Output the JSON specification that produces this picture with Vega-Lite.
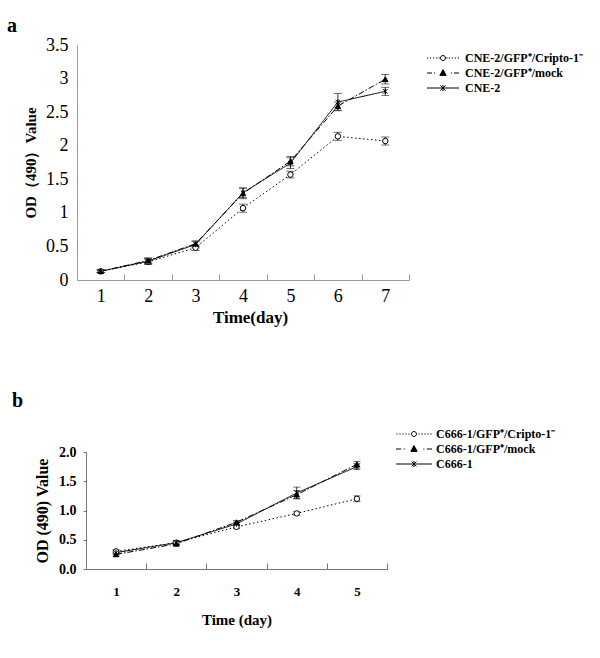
{
  "$schema": "https://vega.github.io/schema/vega-lite/v6.json",
  "padding": {"left": 7, "top": 16, "right": 2, "bottom": 5},
  "background": "white",
  "config": {"view": {"stroke": null}, "font": "Liberation Serif", "axis": {"grid": false, "labelColor": "black", "titleColor": "black", "labelFont": "Liberation Serif", "titleFont": "Liberation Serif", "labelOverlap": false}},
  "datasets": {
    "dA": [
      {"day": 1, "series": "Cripto", "mean": 0.13, "lo": 0.11, "hi": 0.15},
      {"day": 2, "series": "Cripto", "mean": 0.27, "lo": 0.23, "hi": 0.31},
      {"day": 3, "series": "Cripto", "mean": 0.48, "lo": 0.44, "hi": 0.52},
      {"day": 4, "series": "Cripto", "mean": 1.07, "lo": 1.01, "hi": 1.13},
      {"day": 5, "series": "Cripto", "mean": 1.57, "lo": 1.52, "hi": 1.62},
      {"day": 6, "series": "Cripto", "mean": 2.14, "lo": 2.08, "hi": 2.2},
      {"day": 7, "series": "Cripto", "mean": 2.07, "lo": 2.01, "hi": 2.13},
      {"day": 1, "series": "Mock", "mean": 0.13, "lo": 0.11, "hi": 0.15},
      {"day": 2, "series": "Mock", "mean": 0.29, "lo": 0.25, "hi": 0.33},
      {"day": 3, "series": "Mock", "mean": 0.54, "lo": 0.5, "hi": 0.58},
      {"day": 4, "series": "Mock", "mean": 1.29, "lo": 1.21, "hi": 1.37},
      {"day": 5, "series": "Mock", "mean": 1.77, "lo": 1.7, "hi": 1.84},
      {"day": 6, "series": "Mock", "mean": 2.59, "lo": 2.53, "hi": 2.65},
      {"day": 7, "series": "Mock", "mean": 2.99, "lo": 2.92, "hi": 3.06},
      {"day": 1, "series": "Parent", "mean": 0.13, "lo": 0.11, "hi": 0.15},
      {"day": 2, "series": "Parent", "mean": 0.28, "lo": 0.24, "hi": 0.32},
      {"day": 3, "series": "Parent", "mean": 0.53, "lo": 0.48, "hi": 0.58},
      {"day": 4, "series": "Parent", "mean": 1.3, "lo": 1.23, "hi": 1.37},
      {"day": 5, "series": "Parent", "mean": 1.74, "lo": 1.66, "hi": 1.82},
      {"day": 6, "series": "Parent", "mean": 2.65, "lo": 2.52, "hi": 2.78},
      {"day": 7, "series": "Parent", "mean": 2.81, "lo": 2.75, "hi": 2.87}
    ],
    "dB": [
      {"day": 1, "series": "Cripto", "mean": 0.3, "lo": 0.27, "hi": 0.33},
      {"day": 2, "series": "Cripto", "mean": 0.45, "lo": 0.42, "hi": 0.48},
      {"day": 3, "series": "Cripto", "mean": 0.72, "lo": 0.69, "hi": 0.75},
      {"day": 4, "series": "Cripto", "mean": 0.95, "lo": 0.92, "hi": 0.98},
      {"day": 5, "series": "Cripto", "mean": 1.2, "lo": 1.15, "hi": 1.25},
      {"day": 1, "series": "Mock", "mean": 0.25, "lo": 0.22, "hi": 0.28},
      {"day": 2, "series": "Mock", "mean": 0.43, "lo": 0.4, "hi": 0.46},
      {"day": 3, "series": "Mock", "mean": 0.8, "lo": 0.77, "hi": 0.83},
      {"day": 4, "series": "Mock", "mean": 1.27, "lo": 1.2, "hi": 1.34},
      {"day": 5, "series": "Mock", "mean": 1.79, "lo": 1.74, "hi": 1.84},
      {"day": 1, "series": "Parent", "mean": 0.28, "lo": 0.25, "hi": 0.31},
      {"day": 2, "series": "Parent", "mean": 0.45, "lo": 0.42, "hi": 0.48},
      {"day": 3, "series": "Parent", "mean": 0.77, "lo": 0.74, "hi": 0.8},
      {"day": 4, "series": "Parent", "mean": 1.3, "lo": 1.2, "hi": 1.4},
      {"day": 5, "series": "Parent", "mean": 1.75, "lo": 1.7, "hi": 1.8}
    ]
  },
  "columns": 1,
  "spacing": 66,
  "concat": [
    {
      "title": {"text": "a", "anchor": "start", "frame": "group", "fontSize": 20, "fontWeight": "bold", "font": "Liberation Serif", "dx": -70, "offset": 0, "color": "black"},
      "width": 332,
      "height": 235,
      "data": {"name": "dA"},
      "encoding": {
        "x": {"field": "day", "type": "ordinal", "bandPosition": 0.5,
          "scale": {"type": "band", "paddingInner": 0, "paddingOuter": 0},
          "axis": {"title": "Time(day)", "titleFontSize": 17, "titleFontWeight": "bold", "titlePadding": 4, "titleX": 173, "labelAngle": 0, "labelFontSize": 18, "labelPadding": 13, "tickBand": "extent", "tickSize": -6, "domainColor": "#999", "tickColor": "#999"}}
      },
      "layer": [
        {"mark": {"type": "line", "color": "black", "strokeWidth": 1},
         "encoding": {
           "y": {"field": "mean", "type": "quantitative", "scale": {"domain": [0, 3.5]},
             "axis": {"title": "OD（490）Value", "titleFontSize": 15, "titleFontWeight": "bold", "titlePadding": 7, "values": [0, 0.5, 1, 1.5, 2, 2.5, 3, 3.5], "tickCount": 8, "labelOverlap": false, "format": "~f", "ticks": false, "labelPadding": 9, "labelFontSize": 18, "domainColor": "#999"}},
           "strokeDash": {"field": "series", "scale": {"domain": ["Cripto", "Mock", "Parent"], "range": [[1.5, 2.5], [6, 2, 1.5, 2], [1, 0]]}, "legend": null}
         }},
        {"mark": {"type": "rule", "color": "black", "strokeWidth": 0.8},
         "encoding": {"y": {"field": "lo", "type": "quantitative",
             "axis": {"title": "OD（490）Value", "titleFontSize": 15, "titleFontWeight": "bold", "titlePadding": 7, "values": [0, 0.5, 1, 1.5, 2, 2.5, 3, 3.5], "tickCount": 8, "labelOverlap": false, "format": "~f", "ticks": false, "labelPadding": 9, "labelFontSize": 18, "domainColor": "#999"}}, "y2": {"field": "hi"}}},
        {"mark": {"type": "tick", "color": "black", "size": 8, "thickness": 0.8, "orient": "horizontal"},
         "encoding": {"y": {"field": "lo", "type": "quantitative",
             "axis": {"title": "OD（490）Value", "titleFontSize": 15, "titleFontWeight": "bold", "titlePadding": 7, "values": [0, 0.5, 1, 1.5, 2, 2.5, 3, 3.5], "tickCount": 8, "labelOverlap": false, "format": "~f", "ticks": false, "labelPadding": 9, "labelFontSize": 18, "domainColor": "#999"}}}},
        {"mark": {"type": "tick", "color": "black", "size": 8, "thickness": 0.8, "orient": "horizontal"},
         "encoding": {"y": {"field": "hi", "type": "quantitative",
             "axis": {"title": "OD（490）Value", "titleFontSize": 15, "titleFontWeight": "bold", "titlePadding": 7, "values": [0, 0.5, 1, 1.5, 2, 2.5, 3, 3.5], "tickCount": 8, "labelOverlap": false, "format": "~f", "ticks": false, "labelPadding": 9, "labelFontSize": 18, "domainColor": "#999"}}}},
        {"mark": {"type": "point", "filled": true, "stroke": "black", "strokeWidth": 1, "opacity": 1, "size": 30},
         "encoding": {
           "y": {"field": "mean", "type": "quantitative",
             "axis": {"title": "OD（490）Value", "titleFontSize": 15, "titleFontWeight": "bold", "titlePadding": 7, "values": [0, 0.5, 1, 1.5, 2, 2.5, 3, 3.5], "tickCount": 8, "labelOverlap": false, "format": "~f", "ticks": false, "labelPadding": 9, "labelFontSize": 18, "domainColor": "#999"}},
           "shape": {"field": "series", "scale": {"domain": ["Cripto", "Mock", "Parent"], "range": ["circle", "triangle-up", "M-0.8,-0.8L0.8,0.8M-0.8,0.8L0.8,-0.8M0,-1L0,1"]}, "legend": null},
           "fill": {"field": "series", "scale": {"domain": ["Cripto", "Mock", "Parent"], "range": ["white", "black", "white"]}, "legend": null}
         }},
        {"transform": [{"filter": "false"}],
         "mark": {"type": "point", "filled": true, "stroke": "black", "strokeWidth": 1, "opacity": 1},
         "encoding": {
           "y": {"field": "mean", "type": "quantitative",
             "axis": {"title": "OD（490）Value", "titleFontSize": 15, "titleFontWeight": "bold", "titlePadding": 7, "values": [0, 0.5, 1, 1.5, 2, 2.5, 3, 3.5], "tickCount": 8, "labelOverlap": false, "format": "~f", "ticks": false, "labelPadding": 9, "labelFontSize": 18, "domainColor": "#999"}},
           "shape": {"field": "series", "scale": {"domain": ["Cripto", "Mock", "Parent"], "range": [
             "M-4,0h0.3M-3.25,0h0.3M-2.5,0h0.3M-1.75,0h0.3M-1.1,0h0.3M0.8,0h0.3M1.45,0h0.3M2.2,0h0.3M2.95,0h0.3M3.7,0h0.3M-0.62,0a0.62,0.62 0 1,1 1.24,0a0.62,0.62 0 1,1 -1.24,0",
             "M-4,0H-2.75M-2.25,0H-2M2,0H2.25M2.75,0H4M0,-0.85L0.8,0.6L-0.8,0.6Z",
             "M-4,0H4M-0.65,-0.65L0.65,0.65M-0.65,0.65L0.65,-0.65M0,-0.8V0.8"]},
             "legend": {"title": null, "orient": "none", "legendX": 360, "legendY": 7, "symbolSize": 64, "symbolStrokeWidth": 1, "symbolStrokeColor": "black", "symbolOpacity": 1, "labelFont": "Liberation Serif", "labelFontSize": 12, "labelFontWeight": "bold", "labelColor": "black", "labelOffset": 16, "rowPadding": 3, "padding": 0, "labelLimit": 300,
               "encode": {"symbols": {"update": {"stroke": {"value": "black"}, "strokeWidth": {"value": 1}, "opacity": {"value": 1}}}},
               "labelExpr": "datum.label == 'Cripto' ? 'CNE-2/GFP⁺/Cripto-1⁻' : datum.label == 'Mock' ? 'CNE-2/GFP⁺/mock' : 'CNE-2'"}},
           "fill": {"field": "series", "scale": {"domain": ["Cripto", "Mock", "Parent"], "range": ["white", "black", "white"]},
             "legend": {"title": null, "orient": "none", "legendX": 360, "legendY": 7, "symbolSize": 64, "symbolStrokeWidth": 1, "symbolStrokeColor": "black", "symbolOpacity": 1, "labelFont": "Liberation Serif", "labelFontSize": 12, "labelFontWeight": "bold", "labelColor": "black", "labelOffset": 16, "rowPadding": 3, "padding": 0, "labelLimit": 300,
               "encode": {"symbols": {"update": {"stroke": {"value": "black"}, "strokeWidth": {"value": 1}, "opacity": {"value": 1}}}},
               "labelExpr": "datum.label == 'Cripto' ? 'CNE-2/GFP⁺/Cripto-1⁻' : datum.label == 'Mock' ? 'CNE-2/GFP⁺/mock' : 'CNE-2'"}}
         }}
      ],
      "resolve": {"scale": {"shape": "independent", "fill": "independent"}}
    },
    {
      "title": {"text": "b", "anchor": "start", "frame": "group", "fontSize": 20, "fontWeight": "bold", "font": "Liberation Serif", "dx": -65, "offset": 17, "color": "black"},
      "width": 310,
      "height": 117,
      "data": {"name": "dB"},
      "encoding": {
        "x": {"field": "day", "type": "ordinal", "bandPosition": 0.5,
          "scale": {"type": "band", "paddingInner": 0, "paddingOuter": 0, "range": [9, 310]},
          "axis": {"title": "Time (day)", "titleFontSize": 15, "titleFontWeight": "bold", "titlePadding": 14, "labelAngle": 0, "labelFontSize": 13, "labelFontWeight": "bold", "labelPadding": 22, "tickBand": "extent", "tickSize": -6, "domainColor": "#777", "tickColor": "#777"}}
      },
      "layer": [
        {"mark": {"type": "line", "color": "black", "strokeWidth": 1},
         "encoding": {
           "y": {"field": "mean", "type": "quantitative", "scale": {"domain": [0, 2]},
             "axis": {"title": "OD (490) Value", "titleFontSize": 16, "titleFontWeight": "bold", "titlePadding": 8, "offset": -9, "values": [0, 0.5, 1, 1.5, 2], "tickCount": 5, "labelOverlap": false, "format": ".1f", "tickSize": 3, "labelPadding": 7, "labelFontSize": 14, "labelFontWeight": "bold", "domainColor": "#777", "tickColor": "#777"}},
           "strokeDash": {"field": "series", "scale": {"domain": ["Cripto", "Mock", "Parent"], "range": [[1.5, 2.5], [6, 2, 1.5, 2], [1, 0]]}, "legend": null}
         }},
        {"mark": {"type": "rule", "color": "black", "strokeWidth": 0.8},
         "encoding": {"y": {"field": "lo", "type": "quantitative",
             "axis": {"title": "OD (490) Value", "titleFontSize": 16, "titleFontWeight": "bold", "titlePadding": 8, "offset": -9, "values": [0, 0.5, 1, 1.5, 2], "tickCount": 5, "labelOverlap": false, "format": ".1f", "tickSize": 3, "labelPadding": 7, "labelFontSize": 14, "labelFontWeight": "bold", "domainColor": "#777", "tickColor": "#777"}}, "y2": {"field": "hi"}}},
        {"mark": {"type": "tick", "color": "black", "size": 7, "thickness": 0.8, "orient": "horizontal"},
         "encoding": {"y": {"field": "lo", "type": "quantitative",
             "axis": {"title": "OD (490) Value", "titleFontSize": 16, "titleFontWeight": "bold", "titlePadding": 8, "offset": -9, "values": [0, 0.5, 1, 1.5, 2], "tickCount": 5, "labelOverlap": false, "format": ".1f", "tickSize": 3, "labelPadding": 7, "labelFontSize": 14, "labelFontWeight": "bold", "domainColor": "#777", "tickColor": "#777"}}}},
        {"mark": {"type": "tick", "color": "black", "size": 7, "thickness": 0.8, "orient": "horizontal"},
         "encoding": {"y": {"field": "hi", "type": "quantitative",
             "axis": {"title": "OD (490) Value", "titleFontSize": 16, "titleFontWeight": "bold", "titlePadding": 8, "offset": -9, "values": [0, 0.5, 1, 1.5, 2], "tickCount": 5, "labelOverlap": false, "format": ".1f", "tickSize": 3, "labelPadding": 7, "labelFontSize": 14, "labelFontWeight": "bold", "domainColor": "#777", "tickColor": "#777"}}}},
        {"mark": {"type": "point", "filled": true, "stroke": "black", "strokeWidth": 1, "opacity": 1, "size": 30},
         "encoding": {
           "y": {"field": "mean", "type": "quantitative",
             "axis": {"title": "OD (490) Value", "titleFontSize": 16, "titleFontWeight": "bold", "titlePadding": 8, "offset": -9, "values": [0, 0.5, 1, 1.5, 2], "tickCount": 5, "labelOverlap": false, "format": ".1f", "tickSize": 3, "labelPadding": 7, "labelFontSize": 14, "labelFontWeight": "bold", "domainColor": "#777", "tickColor": "#777"}},
           "shape": {"field": "series", "scale": {"domain": ["Cripto", "Mock", "Parent"], "range": ["circle", "triangle-up", "M-0.8,-0.8L0.8,0.8M-0.8,0.8L0.8,-0.8M0,-1L0,1"]}, "legend": null},
           "fill": {"field": "series", "scale": {"domain": ["Cripto", "Mock", "Parent"], "range": ["white", "black", "white"]}, "legend": null}
         }},
        {"transform": [{"filter": "false"}],
         "mark": {"type": "point", "filled": true, "stroke": "black", "strokeWidth": 1, "opacity": 1},
         "encoding": {
           "y": {"field": "mean", "type": "quantitative",
             "axis": {"title": "OD (490) Value", "titleFontSize": 16, "titleFontWeight": "bold", "titlePadding": 8, "offset": -9, "values": [0, 0.5, 1, 1.5, 2], "tickCount": 5, "labelOverlap": false, "format": ".1f", "tickSize": 3, "labelPadding": 7, "labelFontSize": 14, "labelFontWeight": "bold", "domainColor": "#777", "tickColor": "#777"}},
           "shape": {"field": "series", "scale": {"domain": ["Cripto", "Mock", "Parent"], "range": [
             "M-4.4,0h0.3M-3.65,0h0.3M-2.9,0h0.3M-2.15,0h0.3M-1.4,0h0.3M1.1,0h0.3M1.85,0h0.3M2.6,0h0.3M3.35,0h0.3M4.1,0h0.3M-0.62,0a0.62,0.62 0 1,1 1.24,0a0.62,0.62 0 1,1 -1.24,0",
             "M-4.5,0H-3.2M-2.6,0H-2.35M2.35,0H2.6M3.2,0H4.5M0,-0.85L0.8,0.6L-0.8,0.6Z",
             "M-4.5,0H4.5M-0.6,-0.6L0.6,0.6M-0.6,0.6L0.6,-0.6M0,-0.75V0.75"]},
             "legend": {"title": null, "orient": "none", "legendX": 331, "legendY": -24, "symbolSize": 64, "symbolStrokeWidth": 1, "symbolStrokeColor": "black", "symbolOpacity": 1, "labelFont": "Liberation Serif", "labelFontSize": 12, "labelFontWeight": "bold", "labelColor": "black", "labelOffset": 16, "rowPadding": 3, "padding": 0,
               "encode": {"symbols": {"update": {"stroke": {"value": "black"}, "strokeWidth": {"value": 1}, "opacity": {"value": 1}}}},
               "labelExpr": "datum.label == 'Cripto' ? 'C666-1/GFP⁺/Cripto-1⁻' : datum.label == 'Mock' ? 'C666-1/GFP⁺/mock' : 'C666-1'"}},
           "fill": {"field": "series", "scale": {"domain": ["Cripto", "Mock", "Parent"], "range": ["white", "black", "white"]},
             "legend": {"title": null, "orient": "none", "legendX": 331, "legendY": -24, "symbolSize": 64, "symbolStrokeWidth": 1, "symbolStrokeColor": "black", "symbolOpacity": 1, "labelFont": "Liberation Serif", "labelFontSize": 12, "labelFontWeight": "bold", "labelColor": "black", "labelOffset": 16, "rowPadding": 3, "padding": 0,
               "encode": {"symbols": {"update": {"stroke": {"value": "black"}, "strokeWidth": {"value": 1}, "opacity": {"value": 1}}}},
               "labelExpr": "datum.label == 'Cripto' ? 'C666-1/GFP⁺/Cripto-1⁻' : datum.label == 'Mock' ? 'C666-1/GFP⁺/mock' : 'C666-1'"}}
         }}
      ],
      "resolve": {"scale": {"shape": "independent", "fill": "independent"}}
    }
  ]
}
